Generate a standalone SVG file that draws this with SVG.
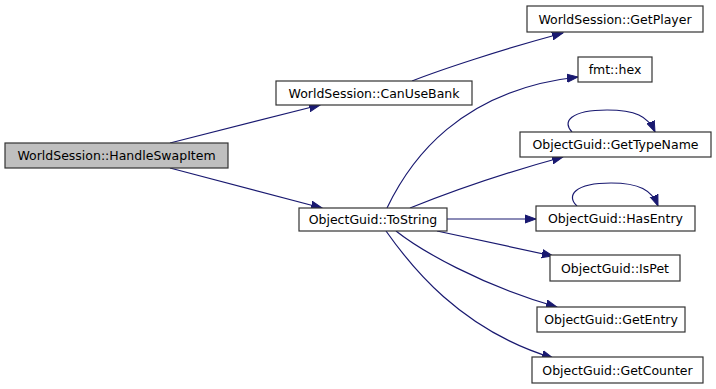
<svg xmlns="http://www.w3.org/2000/svg" width="716" height="389" viewBox="0 0 716 389">
<style>
.n rect{fill:#fff;stroke:#333;stroke-width:1.2}
.n text{font-family:"DejaVu Sans",sans-serif;font-size:12.5px;fill:#000;text-anchor:middle}
.e path{fill:none;stroke:#191970;stroke-width:1.2}
</style>
<defs>
<marker id="a" markerUnits="userSpaceOnUse" markerWidth="12" markerHeight="10" viewBox="0 -5 12 10" refX="11" refY="0" orient="auto">
<path d="M0,-4 L11,0 L0,4 z" fill="#191970" stroke="#191970"/>
</marker>
</defs>
<rect width="716" height="389" fill="#fff"/>
<g id="connectors" class="e">
<path d="M170,143 L320,105" marker-end="url(#a)"/>
<path d="M170,168 L322,208" marker-end="url(#a)"/>
<path d="M412,81 C440,70 500,50 563,33" marker-end="url(#a)"/>
<path d="M387,208 C410,160 460,90 578,77" marker-end="url(#a)"/>
<path d="M410,208 C440,196 500,174 563,157" marker-end="url(#a)"/>
<path d="M447,219 L536,219" marker-end="url(#a)"/>
<path d="M437,231 L553,256" marker-end="url(#a)"/>
<path d="M396,231 C420,250 480,285 557,307" marker-end="url(#a)"/>
<path d="M386,231 C410,265 460,330 553,358" marker-end="url(#a)"/>
<path d="M572,132 C562,122 570,110 607,110 C635,110 648,116 655,132" marker-end="url(#a)"/>
<path d="M577,206 C566,196 574,183 611,183 C639,183 652,190 658,206" marker-end="url(#a)"/>
</g>
<g id="HandleSwapItem" class="n"><rect x="5" y="143" width="223" height="25" style="fill:#bfbfbf"/><text x="116.5" y="160">WorldSession::HandleSwapItem</text></g>
<g id="CanUseBank" class="n"><rect x="276" y="81" width="196" height="24"/><text x="374" y="97.5">WorldSession::CanUseBank</text></g>
<g id="ToString" class="n"><rect x="299" y="208" width="148" height="23"/><text x="373" y="224">ObjectGuid::ToString</text></g>
<g id="GetPlayer" class="n"><rect x="527" y="6" width="176" height="26"/><text x="615" y="23.5">WorldSession::GetPlayer</text></g>
<g id="hex" class="n"><rect x="578" y="57" width="74" height="25"/><text x="615" y="74">fmt::hex</text></g>
<g id="GetTypeName" class="n"><rect x="520" y="132" width="191" height="25"/><text x="615.5" y="149">ObjectGuid::GetTypeName</text></g>
<g id="HasEntry" class="n"><rect x="536" y="206" width="159" height="25"/><text x="615.5" y="223">ObjectGuid::HasEntry</text></g>
<g id="IsPet" class="n"><rect x="550" y="255" width="130" height="26"/><text x="615" y="272.5">ObjectGuid::IsPet</text></g>
<g id="GetEntry" class="n"><rect x="537" y="307" width="148" height="25"/><text x="611" y="324">ObjectGuid::GetEntry</text></g>
<g id="GetCounter" class="n"><rect x="532" y="357" width="171" height="26"/><text x="617.5" y="374.5">ObjectGuid::GetCounter</text></g>
</svg>
